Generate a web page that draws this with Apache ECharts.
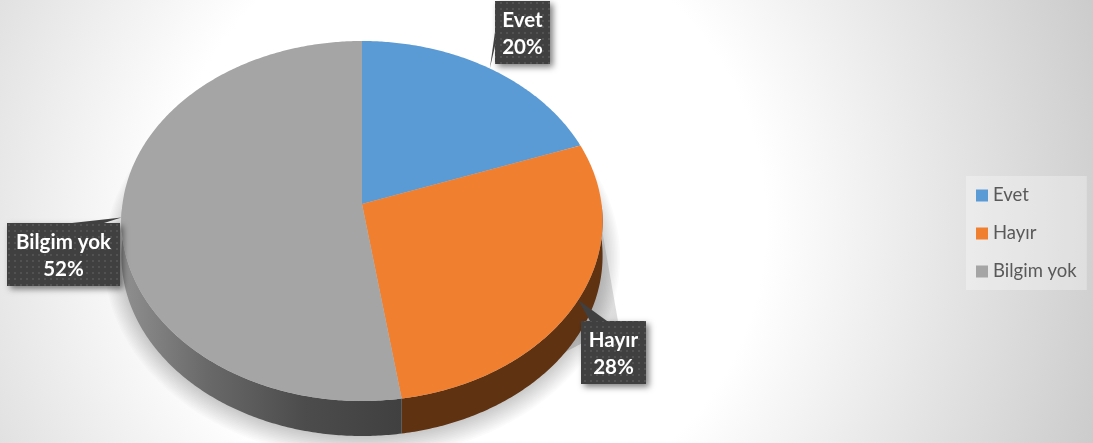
<!DOCTYPE html>
<html><head><meta charset="utf-8">
<style>html,body{margin:0;padding:0;background:#fff}#c{width:1093px;height:443px}</style>
<script src="https://cdn.jsdelivr.net/npm/echarts@6/dist/echarts.min.js"></script>
</head><body><div id="c"></div>
<script>
const categories = ['Evet', 'Hayır', 'Bilgim yok'];
const values = [19.5, 28.1, 52.4];
const percentLabels = ['20%', '28%', '52%'];
const colors = ['#5b9bd5', '#f07f30', '#a5a5a5'];

const FONT = 'Lato, "Open Sans", sans-serif';
const cx = 362, cy = 204, A = 178.4, B = 239.5, K = 0.0945, DEPTH = 35;
const boxes = [
  {x: 495, y: 1, w: 55, h: 63, join: [[495, 32], [495, 46]]},
  {x: 581, y: 321, w: 65, h: 63, join: [[590, 321], [607, 321]]},
  {x: 7, y: 223, w: 113, h: 63, join: [[72, 223], [104, 223]]}
];
const total = values.reduce((a, b) => a + b, 0);
const starts = values.map((v, i) => values.slice(0, i).reduce((a, b) => a + b, 0) / total * 2 * Math.PI);
const ends = values.map((v, i) => starts[i] + v / total * 2 * Math.PI);

function proj(t, dy) {
  const u = Math.sin(t), v = Math.cos(t), d = 1 + K * v;
  return [cx + B * u / d, cy - A * v / d + (dy || 0)];
}
function arc(a, b, dy) {
  const n = Math.max(2, Math.ceil(Math.abs(b - a) / 0.01)), p = [];
  for (let i = 0; i <= n; i++) p.push(proj(a + (b - a) * i / n, dy));
  return p;
}
const dots = document.createElement('canvas');
dots.width = dots.height = 6;
(function () {
  const g = dots.getContext('2d');
  g.fillStyle = '#404040'; g.fillRect(0, 0, 6, 6);
  g.fillStyle = '#525252'; g.fillRect(2, 2, 2, 2);
})();
const grayWall = new echarts.graphic.LinearGradient(123, 0, 402, 0, [
  {offset: 0, color: '#8f8f8f'}, {offset: 0.3, color: '#696969'},
  {offset: 0.65, color: '#4c4c4c'}, {offset: 1, color: '#404040'}], true);
const wallFill = ['#2e5a80', '#5f3212', grayWall];

function sliceItem(i) {
  const kids = [];
  const a = Math.max(starts[i], Math.PI / 2), b = Math.min(ends[i], Math.PI * 1.5);
  if (b > a) {
    const pts = arc(a, b, 0).concat(arc(b, a, DEPTH));
    kids.push({type: 'polygon', shape: {points: pts}, style: {fill: wallFill[i]}});
  }
  kids.push({type: 'polygon', shape: {points: [[cx, cy]].concat(arc(starts[i], ends[i], 0))}, style: {fill: colors[i]}});
  const tip = proj((starts[i] + ends[i]) / 2, 0), bx = boxes[i];
  kids.push({type: 'rect', shape: {x: bx.x, y: bx.y, width: bx.w, height: bx.h},
    style: {fill: {image: dots, repeat: 'repeat'}, shadowBlur: 6, shadowOffsetX: 3, shadowOffsetY: 3, shadowColor: 'rgba(0,0,0,0.5)'}});
  kids.push({type: 'polygon', shape: {points: [tip, bx.join[0], bx.join[1]]}, style: {fill: '#404040'}});
  [categories[i], percentLabels[i]].forEach((s, j) => kids.push({type: 'text',
    style: {text: s, x: bx.x + bx.w / 2, y: bx.y + 19.5 + j * 27, align: 'center', verticalAlign: 'middle',
      fill: '#fff', font: 'bold 20.5px ' + FONT}}));
  return {type: 'group', children: kids};
}
function shadowItem() {
  const r = proj(Math.PI / 2, 0), kids = [
    {type: 'polygon', shape: {points: [[r[0] - 4, r[1]], [r[0] + 17, r[1] + 120], [r[0] - 40, r[1] + 150]]},
      style: {fill: new echarts.graphic.LinearGradient(0, 0, 0, 1, [{offset: 0, color: 'rgba(205,205,205,0.4)'}, {offset: 1, color: 'rgba(205,205,205,0.8)'}])}}
  ];
  for (let s = 0; s < 14; s++) {
    const e = 1 + s * 1.5;
    const out = arc(0, 2 * Math.PI, 0).map(p => [cx + (p[0] - cx) * (B + e - 3) / B, cy + (p[1] - cy) * (A + e) / A + DEPTH]);
    kids.push({type: 'polygon', shape: {points: out}, style: {fill: 'rgba(0,0,0,0.016)'}});
  }
  return {type: 'group', children: kids};
}
const series = [{type: 'custom', name: 'shadow', coordinateSystem: 'none', silent: true, data: [0], renderItem: shadowItem}];
categories.forEach((name, i) => series.push({
  type: 'custom', name, coordinateSystem: 'none', data: [values[i]],
  itemStyle: {color: colors[i]}, renderItem: () => sliceItem(i)
}));
const chart = echarts.init(document.getElementById('c'), null, {renderer: 'canvas'});
chart.setOption({
  animation: false,
  backgroundColor: new echarts.graphic.RadialGradient(465, 221, 700, [
    {offset: 0, color: '#ffffff'}, {offset: 0.43, color: '#ffffff'}, {offset: 1, color: '#c7c7c7'}], true),
  legend: {
    data: categories, orient: 'vertical', left: 966, top: 176, icon: 'rect',
    itemWidth: 12, itemHeight: 12, itemGap: 19, padding: [10, 10, 9, 10],
    backgroundColor: 'rgba(255,255,255,0.3)',
    selectedMode: false,
    textStyle: {fontFamily: FONT, fontSize: 18.5, color: '#595959'}
  },
  series
});
</script></body></html>
